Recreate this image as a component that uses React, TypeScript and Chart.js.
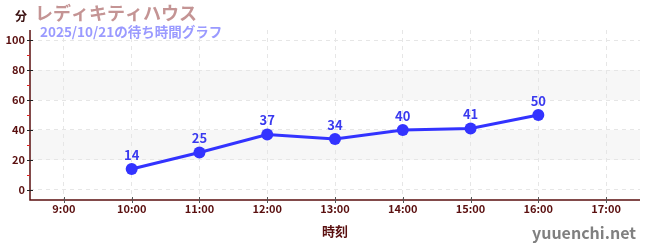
import React, { useEffect, useRef } from "react";
import { Chart, registerables } from "chart.js";

Chart.register(...registerables);

const categories = ["9:00", "10:00", "11:00", "12:00", "13:00", "14:00", "15:00", "16:00", "17:00"];
const waitTimes: (number | null)[] = [null, 14, 25, 37, 34, 40, 41, 50, null];
const yMajorTicks = [0, 20, 40, 60, 80, 100];
const yMinorTicks = [10, 30, 50, 70, 90];
const bandRanges = [[20, 40], [60, 80]];
const titleText = "レディキティハウス";
const subtitleText = "2025/10/21の待ち時間グラフ";
const unitText = "分";
const xTitleText = "時刻";
const watermarkText = "yuuenchi.net";

const FONT = "'Noto Sans CJK JP', 'Noto Sans', sans-serif";
const AXIS_COLOR = "#5a0f0f";

const decorPlugin = {
  id: "decor",
  beforeDraw(chart: any) {
    const { ctx, chartArea, scales } = chart;
    const y = scales.y;
    ctx.save();
    ctx.fillStyle = "#f7f7f7";
    for (const [a, b] of bandRanges) {
      const t = y.getPixelForValue(b);
      const bt = y.getPixelForValue(a);
      ctx.fillRect(chartArea.left, t, chartArea.right - chartArea.left, bt - t);
    }
    ctx.restore();
  },
  afterDraw(chart: any) {
    const { ctx, chartArea, scales } = chart;
    const y = scales.y;
    const x = scales.x;
    ctx.save();
    ctx.strokeStyle = AXIS_COLOR;
    ctx.lineWidth = 1.5;
    ctx.beginPath();
    ctx.moveTo(chartArea.left, chartArea.top);
    ctx.lineTo(chartArea.left, chartArea.bottom);
    ctx.lineTo(chartArea.right, chartArea.bottom);
    ctx.stroke();
    ctx.lineWidth = 1;
    ctx.strokeStyle = "#222";
    for (const v of yMajorTicks) {
      const py = Math.round(y.getPixelForValue(v)) + 0.5;
      ctx.beginPath();
      ctx.moveTo(chartArea.left - 3, py);
      ctx.lineTo(chartArea.left + 3, py);
      ctx.stroke();
    }
    ctx.strokeStyle = "#e02020";
    for (const v of yMinorTicks) {
      const py = Math.round(y.getPixelForValue(v)) + 0.5;
      ctx.beginPath();
      ctx.moveTo(chartArea.left - 3, py);
      ctx.lineTo(chartArea.left, py);
      ctx.stroke();
    }
    ctx.strokeStyle = "#555";
    categories.forEach((_, i) => {
      const px = Math.round(x.getPixelForValue(i)) + 0.5;
      ctx.beginPath();
      ctx.moveTo(px, chartArea.bottom - 3);
      ctx.lineTo(px, chartArea.bottom + 3);
      ctx.stroke();
    });
    const meta = chart.getDatasetMeta(0);
    ctx.fillStyle = "#3a3aef";
    ctx.font = `bold 13px ${FONT}`;
    ctx.textAlign = "center";
    ctx.textBaseline = "middle";
    meta.data.forEach((pt: any, i: number) => {
      const v = waitTimes[i];
      if (v == null) return;
      ctx.fillText(String(v), pt.x, pt.y - 14);
    });
    ctx.textAlign = "left";
    ctx.fillStyle = "#c49494";
    ctx.font = `bold 18px ${FONT}`;
    ctx.fillText(titleText, 35, 13);
    ctx.fillStyle = "#9a9aff";
    ctx.font = `bold 13.5px ${FONT}`;
    ctx.fillText(subtitleText, 40, 32);
    ctx.fillStyle = "#3a1010";
    ctx.font = `bold 12px ${FONT}`;
    ctx.fillText(unitText, 15, 16);
    ctx.fillStyle = "#5a0f0f";
    ctx.textAlign = "center";
    ctx.font = `bold 13px ${FONT}`;
    ctx.fillText(xTitleText, (chartArea.left + chartArea.right) / 2, 231);
    ctx.fillStyle = "#808080";
    ctx.textAlign = "right";
    ctx.font = `bold 16px ${FONT}`;
    ctx.fillText(watermarkText, 636, 233);
    ctx.restore();
  },
};

export default function App() {
  const ref = useRef<HTMLCanvasElement | null>(null);
  useEffect(() => {
    document.body.style.margin = "0";
    const chart = new Chart(ref.current!, {
      type: "line",
      data: {
        labels: categories,
        datasets: [
          {
            data: waitTimes,
            borderColor: "#3333ff",
            backgroundColor: "#3333ff",
            borderWidth: 3,
            pointRadius: 6,
            pointHoverRadius: 6,
            pointBackgroundColor: "#3333ff",
            pointBorderWidth: 0,
            tension: 0,
          },
        ],
      },
      options: {
        animation: false,
        responsive: false,
        maintainAspectRatio: false,
        layout: { padding: { top: 30, right: 10, left: 0, bottom: 0 } },
        plugins: { legend: { display: false }, tooltip: { enabled: false } },
        scales: {
          x: {
            type: "category",
            offset: true,
            grid: { color: "#e6e6e6", drawTicks: false, offset: false, display: true },
            border: { display: false, dash: [4, 4] },
            ticks: { color: AXIS_COLOR, font: { family: FONT, weight: "bold", size: 11 }, padding: 2, maxRotation: 0 },
            afterFit: (s: any) => { s.height = 50; },
          } as any,
          y: {
            min: -6.67,
            max: 106.67,
            afterBuildTicks: (s: any) => { s.ticks = yMajorTicks.map((v) => ({ value: v })); },
            grid: { color: "#e6e6e6", drawTicks: false },
            border: { display: false, dash: [4, 4] },
            ticks: { color: AXIS_COLOR, font: { family: FONT, weight: "bold", size: 11 }, padding: 5 },
            afterFit: (s: any) => { s.width = 30; },
          } as any,
        },
      },
      plugins: [decorPlugin],
    });
    return () => chart.destroy();
  }, []);
  return (
    <div style={{ position: "absolute", left: 0, top: 0, width: 650, height: 250 }}>
      <canvas ref={ref} width={650} height={250} style={{ width: 650, height: 250 }} />
    </div>
  );
}
